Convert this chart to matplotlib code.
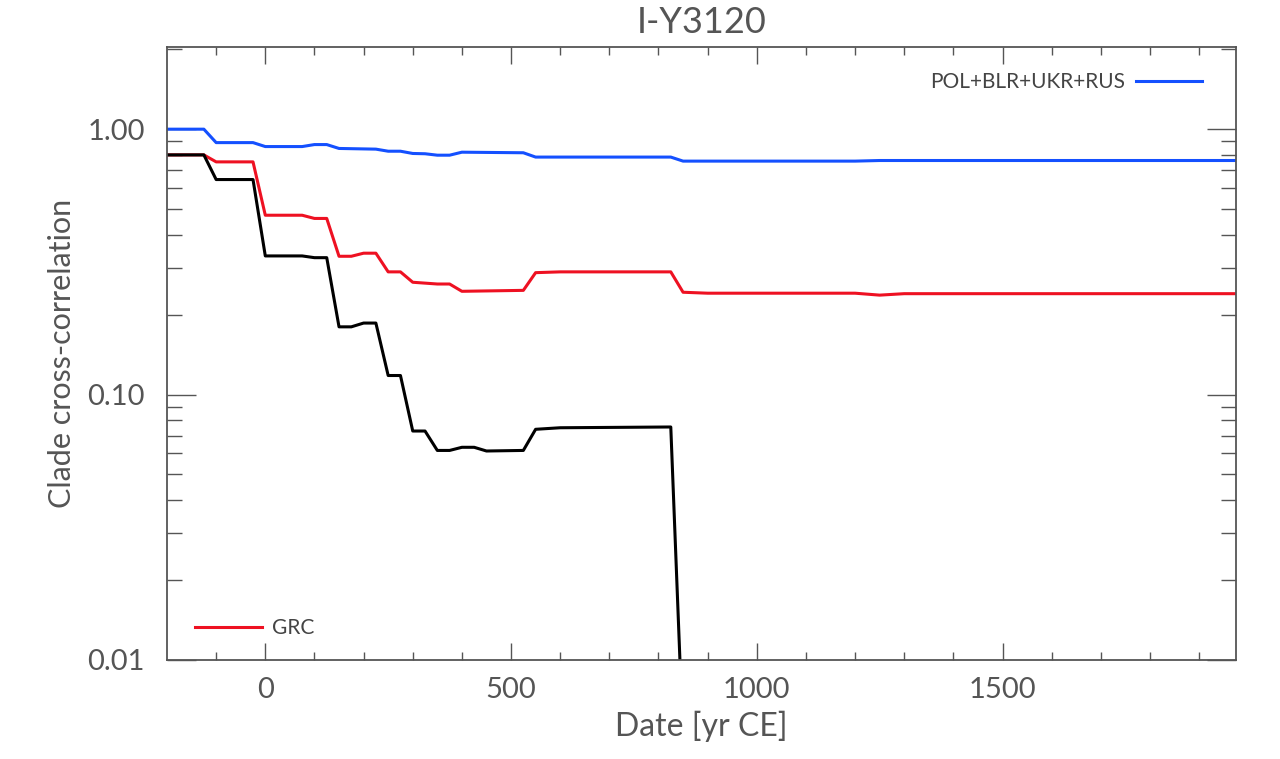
import numpy as np
import matplotlib.pyplot as plt
from matplotlib.ticker import FixedLocator, NullFormatter, LogLocator

# breakpoints (year CE, cross-correlation)
blue_years = [-200, -125, -100, -25, 0, 75, 100, 125, 150, 225, 250, 275, 300, 325,
              350, 375, 400, 525, 550, 825, 850, 1200, 1250, 1975]
blue_vals = [1.00, 1.00, 0.89, 0.89, 0.86, 0.86, 0.875, 0.875, 0.846, 0.841, 0.826,
             0.826, 0.810, 0.808, 0.798, 0.798, 0.819, 0.815, 0.785, 0.785, 0.758,
             0.758, 0.762, 0.762]

red_years = [-200, -125, -100, -25, 0, 75, 100, 125, 150, 175, 200, 225, 250, 275,
             300, 325, 350, 375, 400, 525, 550, 600, 825, 850, 900, 1200, 1250, 1300, 1975]
red_vals = [0.80, 0.80, 0.753, 0.753, 0.474, 0.474, 0.461, 0.461, 0.332, 0.332, 0.341,
            0.341, 0.290, 0.290, 0.265, 0.263, 0.261, 0.261, 0.245, 0.247, 0.288, 0.290,
            0.290, 0.243, 0.241, 0.241, 0.237, 0.240, 0.240]

black_years = [-200, -125, -100, -25, 0, 75, 100, 125, 150, 175, 200, 225, 250, 275,
               300, 325, 350, 375, 400, 425, 450, 525, 550, 600, 825, 850]
black_vals = [0.80, 0.80, 0.646, 0.646, 0.333, 0.333, 0.328, 0.328, 0.180, 0.180, 0.186,
              0.186, 0.118, 0.118, 0.0729, 0.0729, 0.0616, 0.0616, 0.0633, 0.0633,
              0.0613, 0.0616, 0.074, 0.075, 0.0755, 0.005]

grey = '#555555'
plt.rcParams['font.family'] = ['Lato', 'DejaVu Sans']

fig = plt.figure(figsize=(12.8, 7.59), dpi=100)
ax = fig.add_axes([167 / 1280, 1 - 660 / 759, (1236 - 167) / 1280, (660 - 47) / 759])

l_blue, = ax.plot(blue_years, blue_vals, color='#1450ff', lw=2.2, label='POL+BLR+UKR+RUS')
l_red, = ax.plot(red_years, red_vals, color='#ee1122', lw=2.2, label='GRC')
ax.plot(black_years, black_vals, color='black', lw=2.2)

ax.set_yscale('log')
ax.set_xlim(-200, 1975)
ax.set_ylim(0.01, 2.04)

ax.xaxis.set_major_locator(FixedLocator([0, 500, 1000, 1500]))
ax.xaxis.set_minor_locator(FixedLocator(np.arange(-100, 1975, 100)))
ax.yaxis.set_major_locator(FixedLocator([0.01, 0.1, 1.0]))
ax.yaxis.set_minor_locator(LogLocator(base=10, subs=np.arange(2, 10)))
ax.yaxis.set_minor_formatter(NullFormatter())
ax.set_yticklabels(['0.01', '0.10', '1.00'])

for s in ax.spines.values():
    s.set_color(grey)
    s.set_linewidth(1.3)

ax.tick_params(axis='both', which='both', direction='in', colors=grey,
               top=True, right=True, labelsize=21, width=1.0)
ax.tick_params(axis='x', which='major', length=12, pad=12)
ax.tick_params(axis='x', which='minor', length=6)
ax.tick_params(axis='y', which='major', length=21, pad=16)
ax.tick_params(axis='y', which='minor', length=11)
for lab in ax.get_xticklabels() + ax.get_yticklabels():
    lab.set_color(grey)

ax.set_xlabel('Date [yr CE]', fontsize=23, color=grey, labelpad=6)
ax.set_ylabel('Clade cross-correlation', fontsize=22, color=grey, labelpad=8)
ax.set_title('I-Y3120', fontsize=26, color=grey, pad=10)

leg1 = ax.legend(handles=[l_blue], loc='upper right', markerfirst=False, frameon=False,
                 fontsize=15, handlelength=3.2, handletextpad=0.5,
                 bbox_to_anchor=(0.986, 0.99), labelcolor='#444444')
ax.add_artist(leg1)
ax.legend(handles=[l_red], loc='lower left', frameon=False, fontsize=15,
          handlelength=3.2, handletextpad=0.5, bbox_to_anchor=(0.009, 0.005),
          labelcolor='#444444')

fig.savefig('out.png', dpi=100)
